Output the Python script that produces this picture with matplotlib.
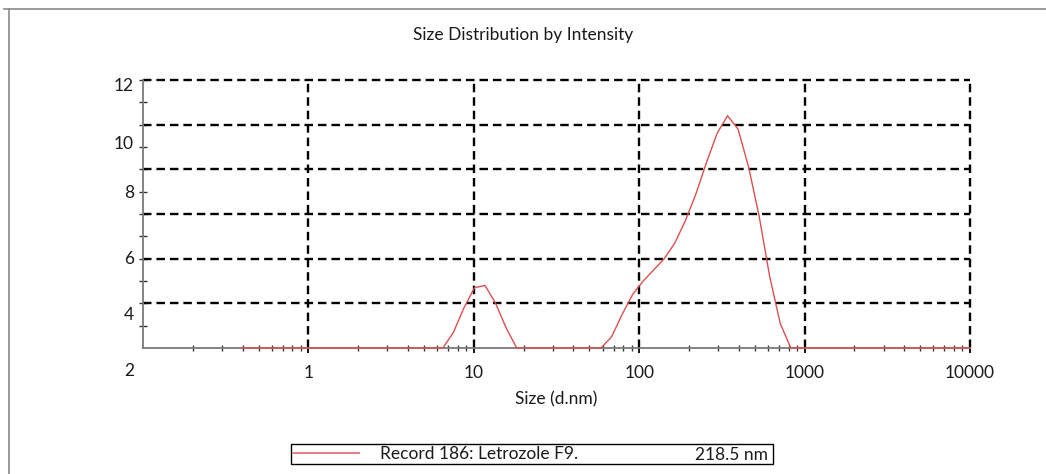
import numpy as np
import matplotlib
matplotlib.use('Agg')
import matplotlib.pyplot as plt
from matplotlib.lines import Line2D
from matplotlib.ticker import FixedLocator, LogLocator, NullFormatter
from matplotlib.transforms import blended_transform_factory

plt.rcParams['font.family'] = ['Lato', 'DejaVu Sans']

# Zetasizer size classes (d.nm) and intensity (%)
sizes = [0.4, 0.4632, 0.5365, 0.6213, 0.7195, 0.8332, 0.9649, 1.117, 1.294, 1.499,
         1.736, 2.01, 2.328, 2.696, 3.122, 3.615, 4.187, 4.849, 5.615, 6.503,
         7.531, 8.721, 10.1, 11.7, 13.54, 15.69, 18.17, 21.04, 24.36, 28.21,
         32.67, 37.84, 43.82, 50.75, 58.77, 68.06, 78.82, 91.28, 105.7, 122.4,
         141.8, 164.2, 190.1, 220.2, 255.0, 295.3, 342.0, 396.1, 458.7, 531.2,
         615.1, 712.4, 825.0, 955.4, 1106, 1281, 1484, 1718, 1990, 2305,
         2669, 3091, 3580, 4145, 4801, 5560, 6439, 7456, 8635, 10000]
intensity = [0.0, 0.0, 0.0, 0.0, 0.0, 0.0, 0.0, 0.0, 0.0, 0.0,
             0.0, 0.0, 0.0, 0.0, 0.0, 0.0, 0.0, 0.0, 0.0, 0.0,
             0.7, 1.8, 2.7, 2.8, 2.0, 0.9, 0.0, 0.0, 0.0, 0.0,
             0.0, 0.0, 0.0, 0.0, 0.0, 0.5, 1.5, 2.4, 3.0, 3.5,
             4.0, 4.7, 5.7, 6.9, 8.3, 9.6, 10.4, 9.8, 8.1, 5.9,
             3.2, 1.1, 0.0, 0.0, 0.0, 0.0, 0.0, 0.0, 0.0, 0.0,
             0.0, 0.0, 0.0, 0.0, 0.0, 0.0, 0.0, 0.0, 0.0, 0.0]

x_ticks = [1, 10, 100, 1000, 10000]
x_ticklabels = ['1', '10', '100', '1000', '10000']
y_grid = [2, 4, 6, 8, 10, 12]
# y labels as printed on the original (offset from the grid)
y_labels = ['12', '10', '8', '6', '4', '2']
y_label_pos = [11.75, 9.15, 6.95, 4.0, 1.5, -1.05]

title = 'Size Distribution by Intensity'
xlabel = 'Size (d.nm)'
record_label = 'Record 186: Letrozole F9.'
record_value = '218.5 nm'

curve_color = '#dd4f4f'
text_color = '#1a1a1a'
fs = 12.5

W, H = 1046, 474
fig = plt.figure(figsize=(W / 100, H / 100), dpi=100)
ax = fig.add_axes([143 / W, 1 - 348 / H, 827 / W, 268 / H])

ax.plot(sizes, intensity, color=curve_color, lw=1.0, zorder=5, clip_on=False)
ax.set_xscale('log')
ax.set_xlim(0.1, 10000)
ax.set_ylim(0, 12)

# dashed grid
for gx in x_ticks:
    ax.axvline(gx, color='black', lw=1.7, dashes=(3.6, 2.1), zorder=2, clip_on=False)
for gy in y_grid:
    ax.axhline(gy, color='black', lw=1.7, dashes=(3.6, 2.1), zorder=2, clip_on=False)

for s in ['top', 'right']:
    ax.spines[s].set_visible(False)
for s in ['left', 'bottom']:
    ax.spines[s].set_color('#7a7a7a')
    ax.spines[s].set_linewidth(1.3)

ax.xaxis.set_major_locator(FixedLocator(x_ticks))
ax.set_xticklabels(x_ticklabels)
ax.xaxis.set_minor_locator(LogLocator(base=10, subs=np.arange(2, 10)))
ax.xaxis.set_minor_formatter(NullFormatter())
ax.tick_params(axis='x', which='major', direction='inout', length=7, width=1.3,
               color='black', labelsize=fs, labelcolor=text_color, pad=9)
ax.tick_params(axis='x', which='minor', direction='inout', length=5, width=1.0,
               color='#333333')

ax.yaxis.set_major_locator(FixedLocator(y_grid))
ax.yaxis.set_minor_locator(FixedLocator([1, 3, 5, 7, 9, 11]))
ax.tick_params(axis='y', which='both', direction='inout', length=6, width=1.0,
               color='#333333', labelleft=False)

trans = blended_transform_factory(ax.transAxes, ax.transData)
for lab, pos in zip(y_labels, y_label_pos):
    ax.text(-0.011, pos, lab, transform=trans, ha='right', va='center',
            fontsize=fs, color=text_color, clip_on=False)

ax.set_xlabel(xlabel, fontsize=fs, color=text_color, labelpad=7)
fig.text(0.5, 1 - 35 / H, title, ha='center', va='center', fontsize=fs,
         color=text_color)

# legend box
leg = fig.legend([Line2D([], [], color='#e38080', lw=1.4)], [record_label],
                 loc='center', mode='expand',
                 bbox_to_anchor=(291 / W, 1 - 465 / H, 482 / W, 22 / H),
                 borderaxespad=0, borderpad=0.1, handlelength=3.8,
                 handletextpad=1.2, fancybox=False, framealpha=1,
                 edgecolor='black', fontsize=fs, labelcolor=text_color)
leg.get_frame().set_linewidth(1.0)
fig.text(768 / W, 1 - 455 / H, record_value, ha='right', va='center',
         fontsize=fs, color=text_color, zorder=10)

# outer frame of the report panel
fig.add_artist(Line2D([4 / W, 1], [1 - 9 / H, 1 - 9 / H], color='#8a8a8a', lw=1.2))
fig.add_artist(Line2D([9 / W, 9 / W], [0, 1 - 9 / H], color='#8a8a8a', lw=1.2))

fig.savefig('out.png', dpi=100, facecolor='white')
